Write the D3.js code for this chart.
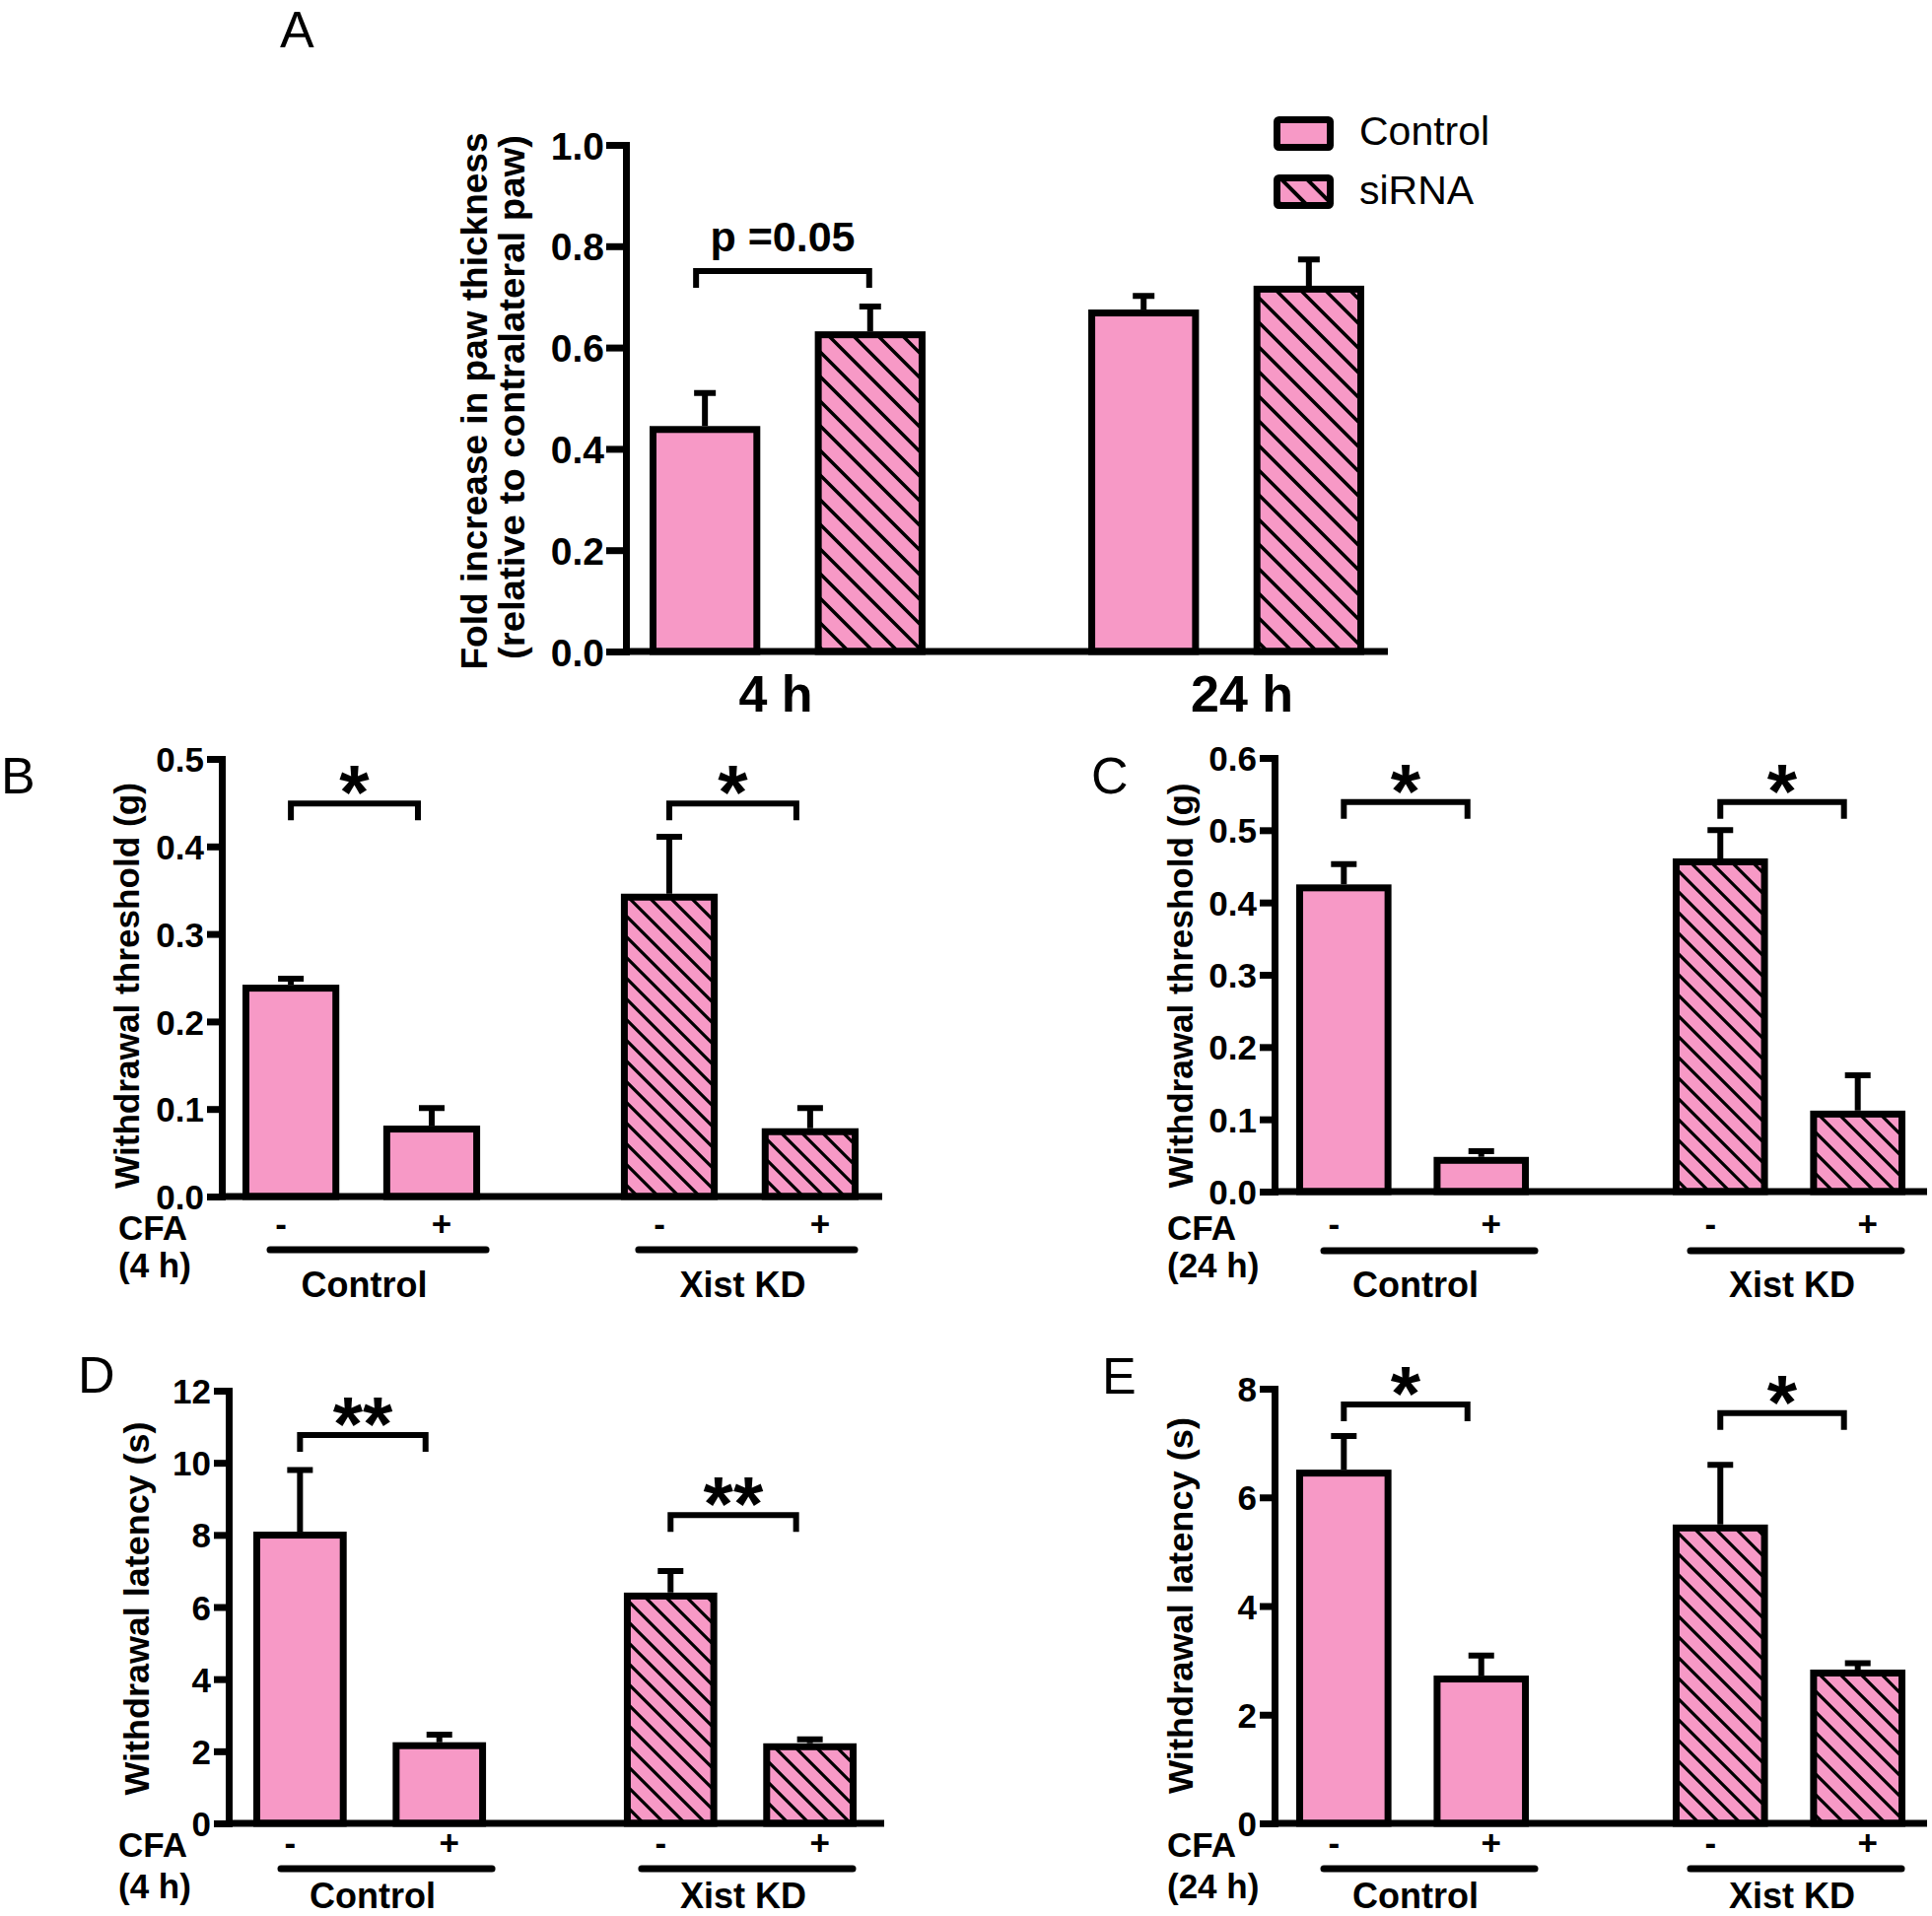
<!DOCTYPE html>
<html><head><meta charset="utf-8">
<script src="https://cdn.jsdelivr.net/npm/d3@7"></script>
<style>body{margin:0;background:#fff}svg{display:block}</style>
</head><body>
<svg id="chart" width="1960" height="1944"></svg>
<script>
// ---------------- DATA ----------------
// Panel A: paw thickness
const timepoints = ["4 h", "24 h"];
const treatments = ["Control", "siRNA"];
const pawMean = [[0.445, 0.632], [0.675, 0.722]];   // [timepoint][treatment]
const pawSem  = [[0.065, 0.049], [0.027, 0.052]];
const pawTicks = [0, 0.2, 0.4, 0.6, 0.8, 1.0];
const pawBracket = { group: 0, value: 0.751, label: "p =0.05" };

// Panels B-E
const groups = ["Control", "Xist KD"];
const cfaLevels = ["-", "+"];

const thr4hMean = [[0.242, 0.081], [0.346, 0.078]];  // [group][CFA]
const thr4hSem  = [[0.007, 0.020], [0.065, 0.023]];
const thr4hTicks = [0, 0.1, 0.2, 0.3, 0.4, 0.5];
const thr4hBrackets = [0.449, 0.449];
const thr4hSig = ["*", "*"];

const thr24hMean = [[0.425, 0.048], [0.461, 0.112]];
const thr24hSem  = [[0.028, 0.008], [0.039, 0.049]];
const thr24hTicks = [0, 0.1, 0.2, 0.3, 0.4, 0.5, 0.6];
const thr24hBrackets = [0.539, 0.539];
const thr24hSig = ["*", "*"];

const lat4hMean = [[8.09, 2.25], [6.40, 2.22]];
const lat4hSem  = [[1.71, 0.21], [0.60, 0.11]];
const lat4hTicks = [0, 2, 4, 6, 8, 10, 12];
const lat4hBrackets = [10.77, 8.55];
const lat4hSig = ["**", "**"];

const lat24hMean = [[6.51, 2.72], [5.50, 2.83]];
const lat24hSem  = [[0.62, 0.37], [1.10, 0.12]];
const lat24hTicks = [0, 2, 4, 6, 8];
const lat24hBrackets = [7.71, 7.55];
const lat24hSig = ["*", "*"];

// ---------------- STYLE ----------------
const PINK = "#f799c6";
const FONT = "'Liberation Sans', Arial, Helvetica, sans-serif";
const svg = d3.select("#chart");
const defs = svg.append("defs");

function hatch(id, p, sw) {
  const pat = defs.append("pattern").attr("id", id)
    .attr("patternUnits", "userSpaceOnUse").attr("width", p).attr("height", p);
  pat.append("rect").attr("width", p).attr("height", p).attr("fill", PINK);
  pat.append("path")
    .attr("d", `M-2,-2L${p+2},${p+2}M${p-sw},${-sw}L${p+sw},${sw}M${-sw},${p-sw}L${sw},${p+sw}`)
    .attr("stroke", "#000").attr("stroke-width", sw).attr("fill", "none");
}
hatch("hatchA", 25, 3.5);
hatch("hatchB", 21, 3.2);
hatch("hatchLeg", 26, 4);

function panel(cfg) {
  const g = svg.append("g");
  const y = d3.scaleLinear().domain([0, cfg.max]).range([cfg.y0, cfg.yTop]);
  const xg = d3.scaleBand().domain(cfg.groups).range(cfg.xr).paddingInner(cfg.pg).paddingOuter(0);
  const xs = d3.scaleBand().domain(cfg.sub).range([0, xg.bandwidth()]).paddingInner(cfg.ps).paddingOuter(0);
  const cx = (gi, si) => xg(cfg.groups[gi]) + xs(cfg.sub[si]) + xs.bandwidth() / 2;

  const rows = [];
  cfg.mean.forEach((arr, gi) => arr.forEach((m, si) => rows.push({gi, si, m, e: cfg.sem[gi][si]})));
  const bw = cfg.barStroke;
  // error bars (mean + SEM)
  g.selectAll(".err").data(rows).join("path")
    .attr("d", d => `M${cx(d.gi, d.si)},${y(d.m)}V${y(d.m + d.e)}M${cx(d.gi, d.si) - cfg.cap},${y(d.m + d.e)}H${cx(d.gi, d.si) + cfg.cap}`)
    .attr("stroke", "#000").attr("stroke-width", cfg.errStroke).attr("fill", "none");
  // bars
  g.selectAll(".bar").data(rows).join("rect")
    .attr("x", d => xg(cfg.groups[d.gi]) + xs(cfg.sub[d.si]) + bw / 2)
    .attr("width", xs.bandwidth() - bw)
    .attr("y", d => y(d.m) + bw / 2)
    .attr("height", d => cfg.y0 - y(d.m) - bw / 2)
    .attr("fill", d => cfg.hatched(d.gi, d.si) ? `url(#${cfg.hatchId})` : PINK)
    .attr("stroke", "#000").attr("stroke-width", bw);

  // x axis line
  g.append("line").attr("x1", cfg.axisX).attr("x2", cfg.xEnd)
    .attr("y1", cfg.y0).attr("y2", cfg.y0)
    .attr("stroke", "#000").attr("stroke-width", cfg.axisStroke);

  // y axis
  const ax = g.append("g").attr("transform", `translate(${cfg.axisX},0)`)
    .call(d3.axisLeft(y).tickValues(cfg.ticks).tickFormat(cfg.fmt)
      .tickSize(cfg.tickLen).tickSizeOuter(0).tickPadding(cfg.tickPad));
  ax.select(".domain").attr("stroke-width", cfg.axisStroke).attr("stroke-linecap", "square");
  ax.selectAll(".tick line").attr("stroke-width", cfg.axisStroke);
  ax.selectAll(".tick text").attr("font-family", FONT).attr("font-weight", "bold")
    .attr("font-size", cfg.tickFont).attr("fill", "#000").attr("dy", "0.36em");

  // y label(s)
  cfg.ylab.forEach(l => {
    g.append("text").attr("transform", `translate(${l.x},${l.cy}) rotate(-90)`)
      .attr("text-anchor", "middle").attr("font-family", FONT).attr("font-weight", "bold")
      .attr("font-size", l.size).attr("textLength", l.len).attr("lengthAdjust", "spacingAndGlyphs")
      .text(l.text);
  });

  // significance brackets
  cfg.brackets.forEach(b => {
    const x1 = cx(b.group, 0) + cfg.brOff[0], x2 = cx(b.group, 1) + cfg.brOff[1];
    const yy = y(b.value);
    g.append("path").attr("d", `M${x1},${yy + cfg.leg}V${yy}H${x2}V${yy + cfg.leg}`)
      .attr("fill", "none").attr("stroke", "#000").attr("stroke-width", cfg.brStroke);
    g.append("text").attr("x", (x1 + x2) / 2).attr("y", yy + b.dy)
      .attr("text-anchor", "middle").attr("font-family", FONT).attr("font-weight", "bold")
      .attr("font-size", b.size).text(b.label);
  });

  // panel letter
  g.append("text").attr("x", cfg.letter.x).attr("y", cfg.letter.y)
    .attr("font-family", FONT).attr("font-size", 52).text(cfg.letter.t);
  return {g, y, xg, xs, cx};
}

// ---------------- PANEL A ----------------
const A = panel({
  groups: timepoints, sub: treatments, mean: pawMean, sem: pawSem,
  max: 1.0, ticks: pawTicks, fmt: d3.format(".1f"),
  axisX: 635, y0: 661, yTop: 147, xr: [659, 1384], pg: 0.371, ps: 0.33, xEnd: 1408,
  tickLen: 20, tickPad: 2, tickFont: 39, axisStroke: 7, barStroke: 7, errStroke: 6, cap: 11,
  hatched: (gi, si) => si === 1, hatchId: "hatchA",
  brackets: [{group: pawBracket.group, value: pawBracket.value, label: pawBracket.label, dy: -20, size: 43}],
  brOff: [-9, -1], leg: 17, brStroke: 6,
  ylab: [
    {text: "Fold increase in paw thickness", x: 494, cy: 407, size: 37, len: 545},
    {text: "(relative to contralateral paw)", x: 532, cy: 403, size: 37, len: 532}
  ],
  letter: {t: "A", x: 284, y: 48}
});
const timeLabelShift = [-12, 16];
timepoints.forEach((t, gi) => {
  A.g.append("text").attr("x", A.xg(t) + A.xg.bandwidth() / 2 + timeLabelShift[gi]).attr("y", 722)
    .attr("text-anchor", "middle").attr("font-family", FONT).attr("font-weight", "bold")
    .attr("font-size", 52).text(t);
});
// legend
treatments.forEach((t, i) => {
  const ly = 121.5 + i * 59;
  A.g.append("rect").attr("x", 1295.5).attr("y", ly).attr("width", 54).attr("height", 28)
    .attr("rx", 2).attr("fill", i === 1 ? "url(#hatchLeg)" : PINK)
    .attr("stroke", "#000").attr("stroke-width", 7);
  A.g.append("text").attr("x", 1379).attr("y", 147 + i * 60)
    .attr("font-family", FONT).attr("font-size", 41).text(t);
});

// ---------------- PANELS B-E ----------------
const signShift = [-10, 10];
function cfaPanel(o) {
  const P = panel({
    groups: groups, sub: cfaLevels, mean: o.mean, sem: o.sem,
    max: o.max, ticks: o.ticks, fmt: o.fmt,
    axisX: o.axisX, y0: o.y0, yTop: o.yTop, xr: o.xr, pg: o.pg, ps: o.ps, xEnd: o.xEnd,
    tickLen: 15, tickPad: 3, tickFont: 35, axisStroke: 7, barStroke: 7, errStroke: 6, cap: 13,
    hatched: (gi, si) => gi === 1, hatchId: "hatchB",
    brackets: o.brackets.map((v, i) => ({group: i, value: v, label: o.sig[i], dy: 16, size: 78})),
    brOff: [0, -14], leg: 17, brStroke: 6,
    ylab: [{text: o.ylab, x: o.ylabX, cy: o.ylabCy, size: 35, len: o.ylabLen}],
    letter: o.letter
  });
  const bold = s => s.attr("font-family", FONT).attr("font-weight", "bold").attr("font-size", 35);
  groups.forEach((gname, gi) => {
    cfaLevels.forEach((c, si) => {
      P.g.append("text").attr("x", P.cx(gi, si) + signShift[si]).attr("y", o.signY)
        .attr("text-anchor", "middle").call(bold).text(c);
    });
    const gx0 = P.xg(gname), gx1 = gx0 + P.xg.bandwidth();
    const u0 = gx0 + (gi === 0 ? 28 : 18), u1 = gx1 + (gi === 0 ? 6 : -4);
    P.g.append("line").attr("x1", u0).attr("x2", u1).attr("y1", o.ulY).attr("y2", o.ulY)
      .attr("stroke", "#000").attr("stroke-width", 7).attr("stroke-linecap", "round");
    P.g.append("text").attr("x", (gx0 + gx1) / 2 + 3).attr("y", o.glY)
      .attr("text-anchor", "middle").call(bold).attr("font-size", 36).text(gname);
  });
  P.g.append("text").attr("x", o.cfaX).attr("y", o.cfaY).call(bold).text("CFA");
  P.g.append("text").attr("x", o.cfaX).attr("y", o.durY).call(bold).text(o.dur);
  return P;
}

cfaPanel({
  mean: thr4hMean, sem: thr4hSem, max: 0.5, ticks: thr4hTicks, fmt: d3.format(".1f"),
  brackets: thr4hBrackets, sig: thr4hSig,
  axisX: 225, y0: 1214, yTop: 770, xr: [246, 871], pg: 0.372, ps: 0.3125, xEnd: 895,
  ylab: "Withdrawal threshold (g)", ylabX: 141, ylabCy: 1000, ylabLen: 412,
  letter: {t: "B", x: 1, y: 805},
  signY: 1254, ulY: 1268, glY: 1316, cfaX: 120, cfaY: 1258, durY: 1296, dur: "(4 h)"
});
cfaPanel({
  mean: thr24hMean, sem: thr24hSem, max: 0.6, ticks: thr24hTicks, fmt: d3.format(".1f"),
  brackets: thr24hBrackets, sig: thr24hSig,
  axisX: 1293, y0: 1209, yTop: 769, xr: [1315, 1933], pg: 0.382, ps: 0.307, xEnd: 1955,
  ylab: "Withdrawal threshold (g)", ylabX: 1210, ylabCy: 1000, ylabLen: 411,
  letter: {t: "C", x: 1107, y: 805},
  signY: 1254, ulY: 1269, glY: 1316, cfaX: 1184, cfaY: 1258, durY: 1296, dur: "(24 h)"
});
cfaPanel({
  mean: lat4hMean, sem: lat4hSem, max: 12, ticks: lat4hTicks, fmt: d3.format("d"),
  brackets: lat4hBrackets, sig: lat4hSig,
  axisX: 232, y0: 1850, yTop: 1411, xr: [257, 869], pg: 0.372, ps: 0.33, xEnd: 897,
  ylab: "Withdrawal latency (s)", ylabX: 151, ylabCy: 1632, ylabLen: 379,
  letter: {t: "D", x: 79, y: 1413},
  signY: 1882, ulY: 1896, glY: 1936, cfaX: 120, cfaY: 1884, durY: 1926, dur: "(4 h)"
});
cfaPanel({
  mean: lat24hMean, sem: lat24hSem, max: 8, ticks: lat24hTicks, fmt: d3.format("d"),
  brackets: lat24hBrackets, sig: lat24hSig,
  axisX: 1293, y0: 1850, yTop: 1409, xr: [1315, 1933], pg: 0.382, ps: 0.307, xEnd: 1955,
  ylab: "Withdrawal latency (s)", ylabX: 1210, ylabCy: 1629, ylabLen: 382,
  letter: {t: "E", x: 1118, y: 1414},
  signY: 1882, ulY: 1896, glY: 1936, cfaX: 1184, cfaY: 1884, durY: 1926, dur: "(24 h)"
});
</script>
</body></html>
